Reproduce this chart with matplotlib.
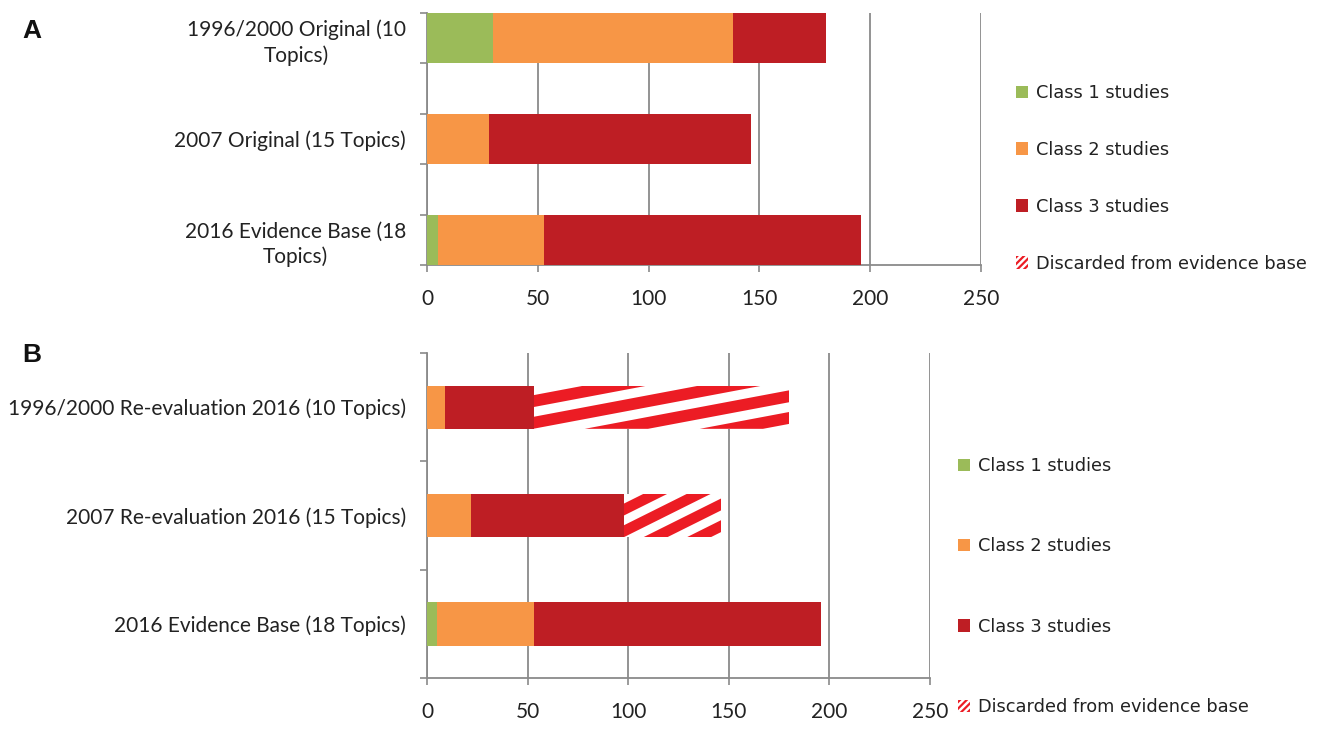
import matplotlib
matplotlib.use("Agg")
import matplotlib.pyplot as plt
from matplotlib.patches import Patch, Polygon

# ---------------- data ----------------
A_cats = ["1996/2000 Original (10\nTopics)", "2007 Original (15 Topics)", "2016 Evidence Base (18\nTopics)"]
A_class1 = [30, 0, 5]
A_class2 = [108, 28, 48]
A_class3 = [42, 118, 143]

B_cats = ["1996/2000 Re-evaluation 2016 (10 Topics)", "2007 Re-evaluation 2016 (15 Topics)",
          "2016 Evidence Base (18 Topics)"]
B_class1 = [0, 0, 5]
B_class2 = [9, 22, 48]
B_class3 = [44, 76, 143]
B_discarded = [127, 48, 0]

x_ticks = [0, 50, 100, 150, 200, 250]
legend_labels = ["Class 1 studies", "Class 2 studies", "Class 3 studies", "Discarded from evidence base"]

# ---------------- style ----------------
GREEN = "#9BBB59"
ORANGE = "#F79646"
DARKRED = "#BE1E24"
STRIPE = "#EC1C24"
GRID = "#8A8A8A"
CAT_FONT = "Lato"
LEG_FONT = "DejaVu Sans"
CAT_SIZE = 15

fig = plt.figure(figsize=(13.23, 7.29), dpi=100)
W, H = 1323, 729


def ax_rect(l, t, r, b):
    return [l / W, 1 - b / H, (r - l) / W, (b - t) / H]


def add_stripes(ax, patch, left, width, yc, height, period=0.45, shift=0.9, frac=0.55, phase=0.2):
    # y axis is inverted: bottom of the bar on screen is yc + height/2
    y_bottom = yc + height / 2
    k = -6
    while k * period + phase < 1.0:
        c = k * period + phase
        u0, u1 = c, c + frac * period
        pts = [(u0, 0), (u1, 0), (u1 + shift, 1), (u0 + shift, 1)]
        verts = [(left + u * width, y_bottom - v * height) for u, v in pts]
        poly = Polygon(verts, closed=True, facecolor=STRIPE, edgecolor="none", lw=0, zorder=4)
        ax.add_patch(poly)
        poly.set_clip_path(patch)
        k += 1


def style_axes(ax, cats, ypos, ylim, minor_ticks):
    ax.set_xlim(0, 250)
    ax.set_ylim(*ylim)
    ax.set_xticks(x_ticks)
    ax.set_xticklabels([str(t) for t in x_ticks], fontfamily=CAT_FONT, fontsize=CAT_SIZE, color="#222222")
    ax.set_yticks(ypos)
    ax.set_yticklabels(cats, fontfamily=CAT_FONT, fontsize=CAT_SIZE, color="#222222",
                       multialignment="center", linespacing=1.3)
    ax.set_yticks(minor_ticks, minor=True)
    ax.tick_params(axis="y", which="major", length=0, pad=15)
    ax.tick_params(axis="y", which="minor", length=5, width=1.2, color=GRID, direction="out")
    ax.tick_params(axis="x", length=5, width=1.2, color=GRID, direction="out", pad=12.5)
    for s in ("top", "right"):
        ax.spines[s].set_visible(False)
    for s in ("left", "bottom"):
        ax.spines[s].set_color(GRID)
        ax.spines[s].set_linewidth(1.3)
    ax.grid(axis="x", color=GRID, linewidth=1.3)
    ax.grid(axis="y", visible=False)
    ax.set_axisbelow(True)


# ---------------- panel A ----------------
axA = fig.add_axes(ax_rect(427, 13, 981, 265))
posA = [0, 1, 2]
hA = 0.5
leftA2 = [a for a in A_class1]
leftA3 = [a + b for a, b in zip(A_class1, A_class2)]
axA.barh(posA, A_class1, height=hA, color=GREEN, zorder=3)
axA.barh(posA, A_class2, left=leftA2, height=hA, color=ORANGE, zorder=3)
axA.barh(posA, A_class3, left=leftA3, height=hA, color=DARKRED, zorder=3)
minorA = sorted([p - hA / 2 for p in posA] + [p + hA / 2 for p in posA])
style_axes(axA, A_cats, posA, (2 + hA / 2, -hA / 2), minorA)

# ---------------- panel B ----------------
axB = fig.add_axes(ax_rect(427, 353, 930, 678))
posB = [0, 1, 2]
hB = 0.4
leftB2 = [a for a in B_class1]
leftB3 = [a + b for a, b in zip(B_class1, B_class2)]
leftB4 = [a + b + c for a, b, c in zip(B_class1, B_class2, B_class3)]
axB.barh(posB, B_class1, height=hB, color=GREEN, zorder=3)
axB.barh(posB, B_class2, left=leftB2, height=hB, color=ORANGE, zorder=3)
axB.barh(posB, B_class3, left=leftB3, height=hB, color=DARKRED, zorder=3)
disc = axB.barh(posB, B_discarded, left=leftB4, height=hB, color="white", zorder=3)
for p, l, w, patch in zip(posB, leftB4, B_discarded, disc.patches):
    if w > 0:
        add_stripes(axB, patch, l, w, p, hB)
minorB = [-0.5, 0.5, 1.5, 2.5]
style_axes(axB, B_cats, posB, (2.5, -0.5), minorB)

# ---------------- legends ----------------
handles = [Patch(facecolor=GREEN, edgecolor="none"),
           Patch(facecolor=ORANGE, edgecolor="none"),
           Patch(facecolor=DARKRED, edgecolor="none"),
           Patch(facecolor="white", edgecolor=STRIPE, hatch="/////", linewidth=0)]
plt.rcParams["hatch.linewidth"] = 1.6
for anchor, ls in (((1016 / W, 1 - 84 / H), 2.19), ((958 / W, 1 - 457 / H), 3.51)):
    fig.legend(handles, legend_labels, loc="upper left", bbox_to_anchor=anchor,
               frameon=False, borderpad=0, borderaxespad=0, handlelength=0.7, handleheight=0.7,
               handletextpad=0.4, labelspacing=ls,
               prop={"family": LEG_FONT, "size": 12.8}, labelcolor="#222222")

# ---------------- panel letters ----------------
fig.text(32 / W, 1 - 31 / H, "A", fontfamily="Liberation Sans", fontweight="bold", fontsize=19,
         ha="center", va="center", color="#111111")
fig.text(32 / W, 1 - 355 / H, "B", fontfamily="Liberation Sans", fontweight="bold", fontsize=19,
         ha="center", va="center", color="#111111")

fig.savefig("out.png", dpi=100)
